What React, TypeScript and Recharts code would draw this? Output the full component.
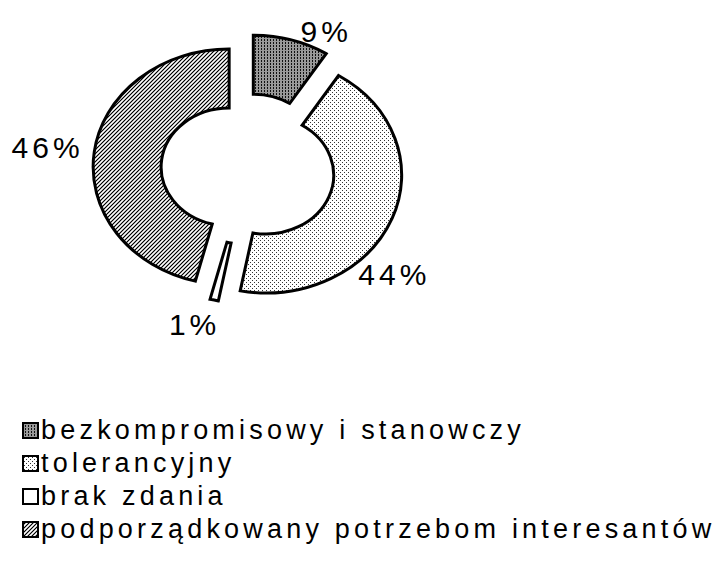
import React from 'react';
import { PieChart, Pie, Cell, Legend } from 'recharts';

const categories = [
  'bezkompromisowy i stanowczy',
  'tolerancyjny',
  'brak zdania',
  'podporządkowany potrzebom interesantów',
];
const shares = [9, 44, 1, 46];

// fill per slice, same order as categories
const fills = ['url(#texDark)', 'url(#texDots)', '#ffffff', 'url(#texHatch)'];

// label placement tweaks (degrees / px) to sit the labels like the original
const labelTurn = [-10, -18, -4, 0];
const labelDist = [177, 190, 187, 202];

const FONT = '"Liberation Sans", Arial, sans-serif';
const SQUASH = 0.867; // the donut is drawn tilted, so it is an ellipse
const EXPLODE = 19;
const RAD = Math.PI / 180;

const data = categories.map((name, i) => ({ name, value: shares[i] }));

const pt = (cx: number, cy: number, r: number, deg: number) =>
  `${cx + r * Math.cos(deg * RAD)},${cy - r * Math.sin(deg * RAD) * SQUASH}`;

const TiltedSector = (props: any) => {
  const { cx, cy, innerRadius, outerRadius, startAngle, endAngle, fill } = props;
  const mid = (startAngle + endAngle) / 2;
  const x0 = cx + EXPLODE * Math.cos(mid * RAD);
  const y0 = cy - EXPLODE * Math.sin(mid * RAD) * SQUASH;
  const large = Math.abs(endAngle - startAngle) > 180 ? 1 : 0;
  const sweep = endAngle < startAngle ? 1 : 0;
  const d =
    `M${pt(x0, y0, outerRadius, startAngle)}` +
    `A${outerRadius},${outerRadius * SQUASH} 0 ${large} ${sweep} ${pt(x0, y0, outerRadius, endAngle)}` +
    `L${pt(x0, y0, innerRadius, endAngle)}` +
    `A${innerRadius},${innerRadius * SQUASH} 0 ${large} ${1 - sweep} ${pt(x0, y0, innerRadius, startAngle)}Z`;
  return <path d={d} fill={fill} stroke="#000" strokeWidth={3} strokeLinejoin="miter" />;
};

const renderLabel = (props: any) => {
  const { cx, cy, midAngle, index, value } = props;
  const a = (midAngle + labelTurn[index]) * RAD;
  const r = labelDist[index];
  return (
    <text
      x={cx + r * Math.cos(a)}
      y={cy - r * Math.sin(a) * SQUASH}
      textAnchor="middle"
      dominantBaseline="central"
      fontFamily={FONT}
      fontSize={30}
      letterSpacing={4}
      fill="#000"
    >
      {value}%
    </text>
  );
};

// legend keeps the data order (recharts sorts the payload by default)
const renderLegend = () => (
  <div style={{ fontFamily: FONT, fontSize: 27, letterSpacing: 4.2, color: '#000' }}>
    {categories.map((name, i) => (
      <div key={name} style={{ display: 'flex', alignItems: 'center', height: 33 }}>
        <svg width={17} height={17} style={{ flex: 'none' }}>
          <rect x={1} y={1} width={15} height={15} fill={fills[i]} stroke="#000" strokeWidth={2} />
        </svg>
        <span style={{ marginLeft: 2, whiteSpace: 'nowrap' }}>{name}</span>
      </div>
    ))}
  </div>
);

export default function App() {
  return (
    <div style={{ position: 'absolute', left: 0, top: 0, width: 719, height: 565, background: '#fff' }}>
      <PieChart width={719} height={565} margin={{ top: 0, right: 0, bottom: 0, left: 0 }}>
        <defs>
          <pattern id="texDark" width={3} height={3} patternUnits="userSpaceOnUse">
            <rect width={3} height={3} fill="#999" />
            <rect x={0} y={0} width={1} height={2} fill="#111" />
          </pattern>
          <pattern id="texDots" width={4} height={4} patternUnits="userSpaceOnUse">
            <rect width={4} height={4} fill="#fff" />
            <rect x={0} y={0} width={1} height={1} fill="#333" />
            <rect x={2} y={2} width={1} height={1} fill="#333" />
          </pattern>
          <pattern id="texHatch" width={4} height={4} patternUnits="userSpaceOnUse">
            <rect width={4} height={4} fill="#b0b0b0" />
            <rect x={0} y={0} width={1} height={1} fill="#000" />
            <rect x={3} y={1} width={1} height={1} fill="#000" />
            <rect x={2} y={2} width={1} height={1} fill="#000" />
            <rect x={1} y={3} width={1} height={1} fill="#000" />
            <rect x={2} y={0} width={1} height={1} fill="#fff" />
            <rect x={1} y={1} width={1} height={1} fill="#fff" />
            <rect x={0} y={2} width={1} height={1} fill="#fff" />
            <rect x={3} y={3} width={1} height={1} fill="#fff" />
          </pattern>
        </defs>
        <Pie
          data={data}
          dataKey="value"
          nameKey="name"
          cx={248}
          cy={169}
          innerRadius={68}
          outerRadius={136}
          startAngle={90}
          endAngle={-270}
          stroke="#000"
          labelLine={false}
          label={renderLabel}
          shape={TiltedSector}
          isAnimationActive={false}
        >
          {data.map((d, i) => (
            <Cell key={d.name} fill={fills[i]} />
          ))}
        </Pie>
        <Legend
          layout="horizontal"
          verticalAlign="bottom"
          align="left"
          content={renderLegend}
          wrapperStyle={{ left: 22, top: 414, bottom: 'auto', width: 'auto' }}
        />
      </PieChart>
    </div>
  );
}
